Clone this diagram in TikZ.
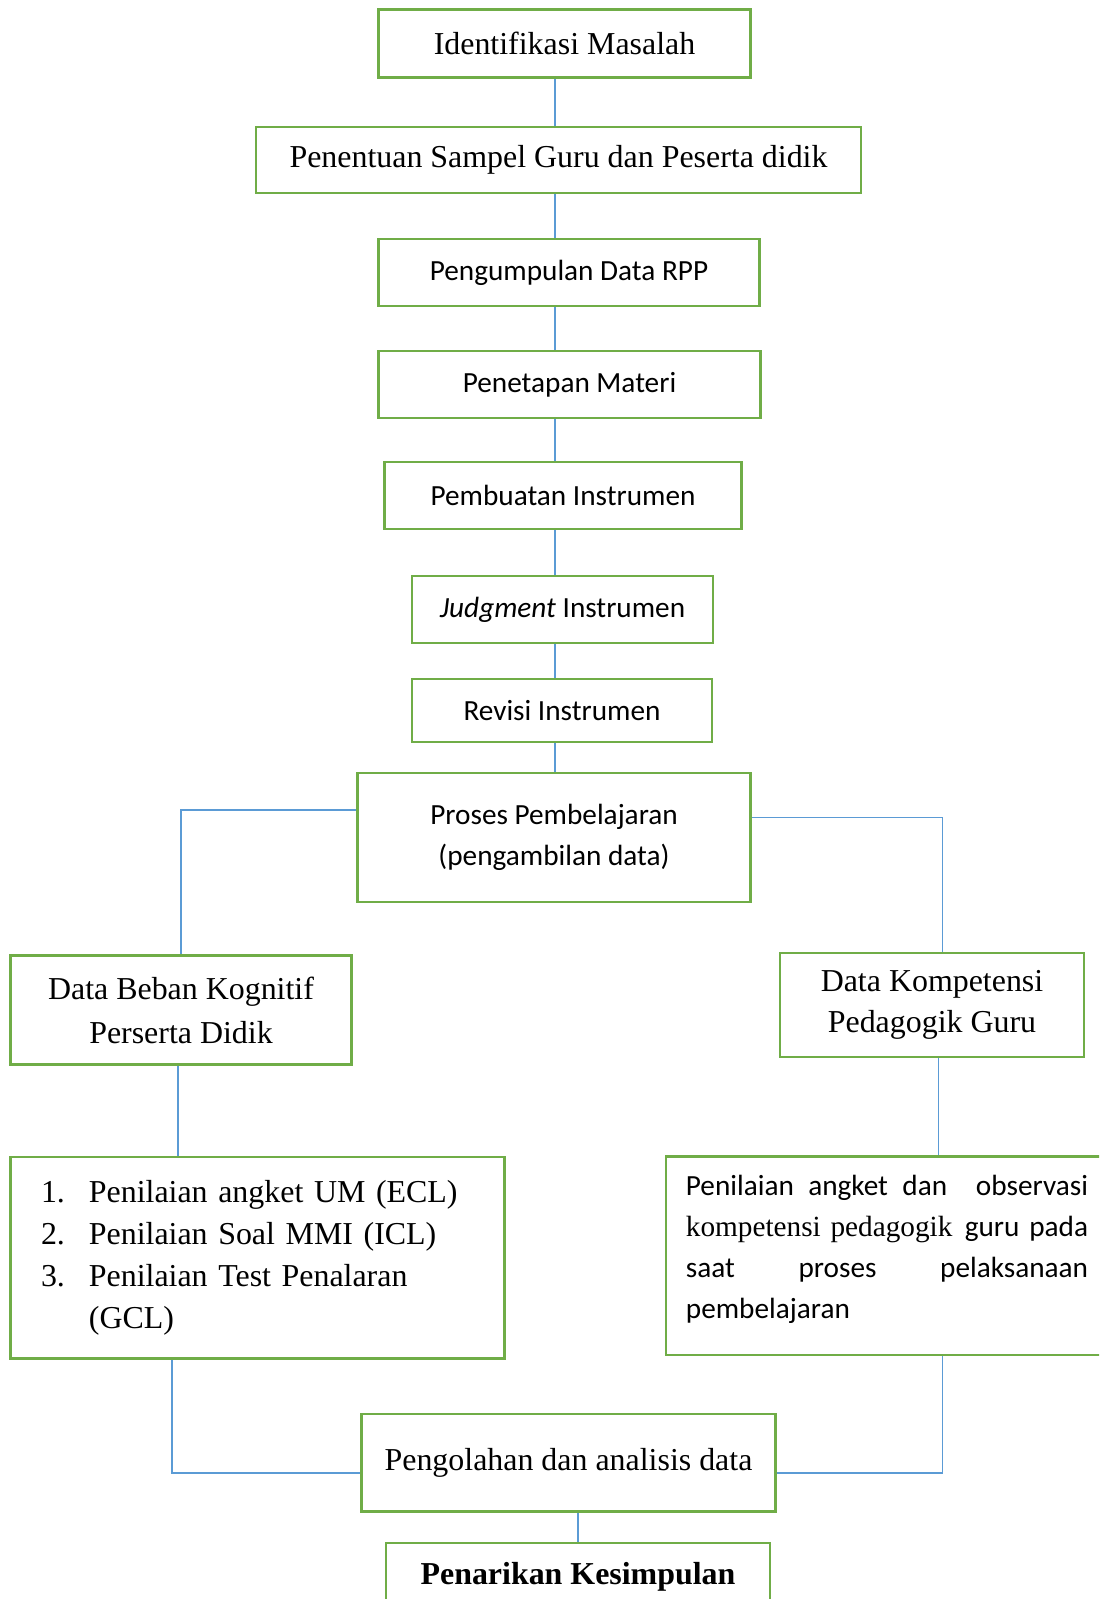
\documentclass[tikz,border=0pt]{standalone}
\usepackage{fontspec}
\setmainfont{Liberation Serif}
\newfontfamily\carlito{Carlito}
\usepackage{tikz}
\usetikzlibrary{positioning,calc}
\definecolor{framec}{RGB}{112,173,71}
\definecolor{linkc}{RGB}{91,155,213}
\tikzset{
  stage/.style  = {draw=framec, line width=1.1pt, fill=white, align=center,
                   inner sep=3pt, font=\fontsize{12}{15.6}\selectfont},
  sstage/.style = {stage, font=\fontsize{11}{15.4}\selectfont\carlito},
  link/.style   = {draw=linkc, line width=0.6pt},
}
\newcommand{\fullline}[1]{\leavevmode\hbox to 151.2pt{#1}}

\begin{document}
\begin{tikzpicture}[x=0.376pt, y=-0.376pt]

\useasboundingbox (0,0) rectangle (1099,1599);
\clip (0,0) rectangle (1099,1599);

% main column
\node[stage, minimum width=140.2pt, minimum height=25.9pt] (ident) at (564.5,43.5) {Identifikasi Masalah};
\node[stage, minimum width=227.5pt, minimum height=24.8pt] (sampel) at (558.5,160) {Penentuan Sampel Guru dan Peserta didik};
\node[sstage, minimum width=143.6pt, minimum height=25.2pt] (rpp) at (569,272.5) {Pengumpulan Data RPP};
\node[sstage, minimum width=143.3pt, minimum height=25.2pt] (materi) at (569.5,384.5) {Penetapan Materi};
\node[sstage, minimum width=133.9pt, minimum height=25.2pt] (buat) at (563,495.5) {Pembuatan Instrumen};
\node[sstage, minimum width=113.2pt, minimum height=25.2pt] (judg) at (562.5,609.5) {\textit{Judgment} Instrumen};
\node[sstage, minimum width=112.8pt, minimum height=23.7pt] (revisi) at (562,710.5) {Revisi Instrumen};
\node[sstage, minimum width=148.1pt, minimum height=48.5pt] (proses) at (554,837.5) {Proses Pembelajaran\\(pengambilan data)};

% two branches
\node[stage, minimum width=128.2pt, minimum height=41pt] (beban) at (181,1010) {Data Beban Kognitif\\[1pt]Perserta Didik};
\node[stage, minimum width=114.3pt, minimum height=39.1pt] (komp) at (932,1005) {Data Kompetensi\\Pedagogik Guru};
\node[stage, minimum width=185.4pt, minimum height=75.6pt, text width=162.8pt, inner xsep=11.3pt,
      align=left, font=\fontsize{12}{15.8}\selectfont] (angket) at (257.5,1257.5)
  {\makebox[18pt][l]{1.}Penilaian angket UM (ECL)\\
   \makebox[18pt][l]{2.}Penilaian Soal MMI (ICL)\\
   \makebox[18pt][l]{3.}Penilaian Test Penalaran\\
   \hspace*{18pt}(GCL)};
\node[sstage, minimum width=166.2pt, minimum height=74.8pt, text width=151.2pt, inner xsep=7.5pt,
      align=left] (obs) at (887,1255.5)
  {\fullline{Penilaian\hfil\ angket\hfil\ dan\hfil\ \hfil\ observasi}\\
   \fullline{{\rmfamily kompetensi pedagogik}\hfil\ guru pada}\\
   \fullline{saat\hfil proses\hfil pelaksanaan}\\
   pembelajaran\rule[-6.5pt]{0pt}{1pt}};

% closing
\node[stage, minimum width=156pt, minimum height=36.5pt] (olah) at (568.5,1462.5) {Pengolahan dan analisis data};
\node[stage, minimum width=144.4pt, minimum height=25.2pt, font=\fontsize{12}{15.6}\selectfont\bfseries] (simpul) at (578,1576.5) {Penarikan Kesimpulan};

\coordinate (spine) at (555,0);
\coordinate (lrail) at (172,0);
\coordinate (rrail) at (942.6,0);

\draw[link] (ident.south -| spine) -- (sampel.north -| spine);
\draw[link] (sampel.south -| spine) -- (rpp.north -| spine);
\draw[link] (rpp.south -| spine) -- (materi.north -| spine);
\draw[link] (materi.south -| spine) -- (buat.north -| spine);
\draw[link] (buat.south -| spine) -- (judg.north -| spine);
\draw[link] (judg.south -| spine) -- (revisi.north -| spine);
\draw[link] (revisi.south -| spine) -- (proses.north -| spine);

\draw[link] ([yshift=10.3pt]proses.west) -| (beban.north);
\draw[link] ([yshift=7.5pt]proses.east) -| (komp.north -| rrail);
\draw[link] ([xshift=-1.1pt]beban.south) -- ([xshift=-1.1pt]beban.south |- angket.north);
\draw[link] ([xshift=2.4pt]komp.south) -- ([xshift=2.4pt]komp.south |- obs.north);
\draw[link] (angket.south -| lrail) |- ([yshift=-4pt]olah.west);
\draw[link] (obs.south -| rrail) |- ([yshift=-4pt]olah.east);
\draw[link] (simpul.north |- olah.south) -- (simpul.north);

\end{tikzpicture}
\end{document}
